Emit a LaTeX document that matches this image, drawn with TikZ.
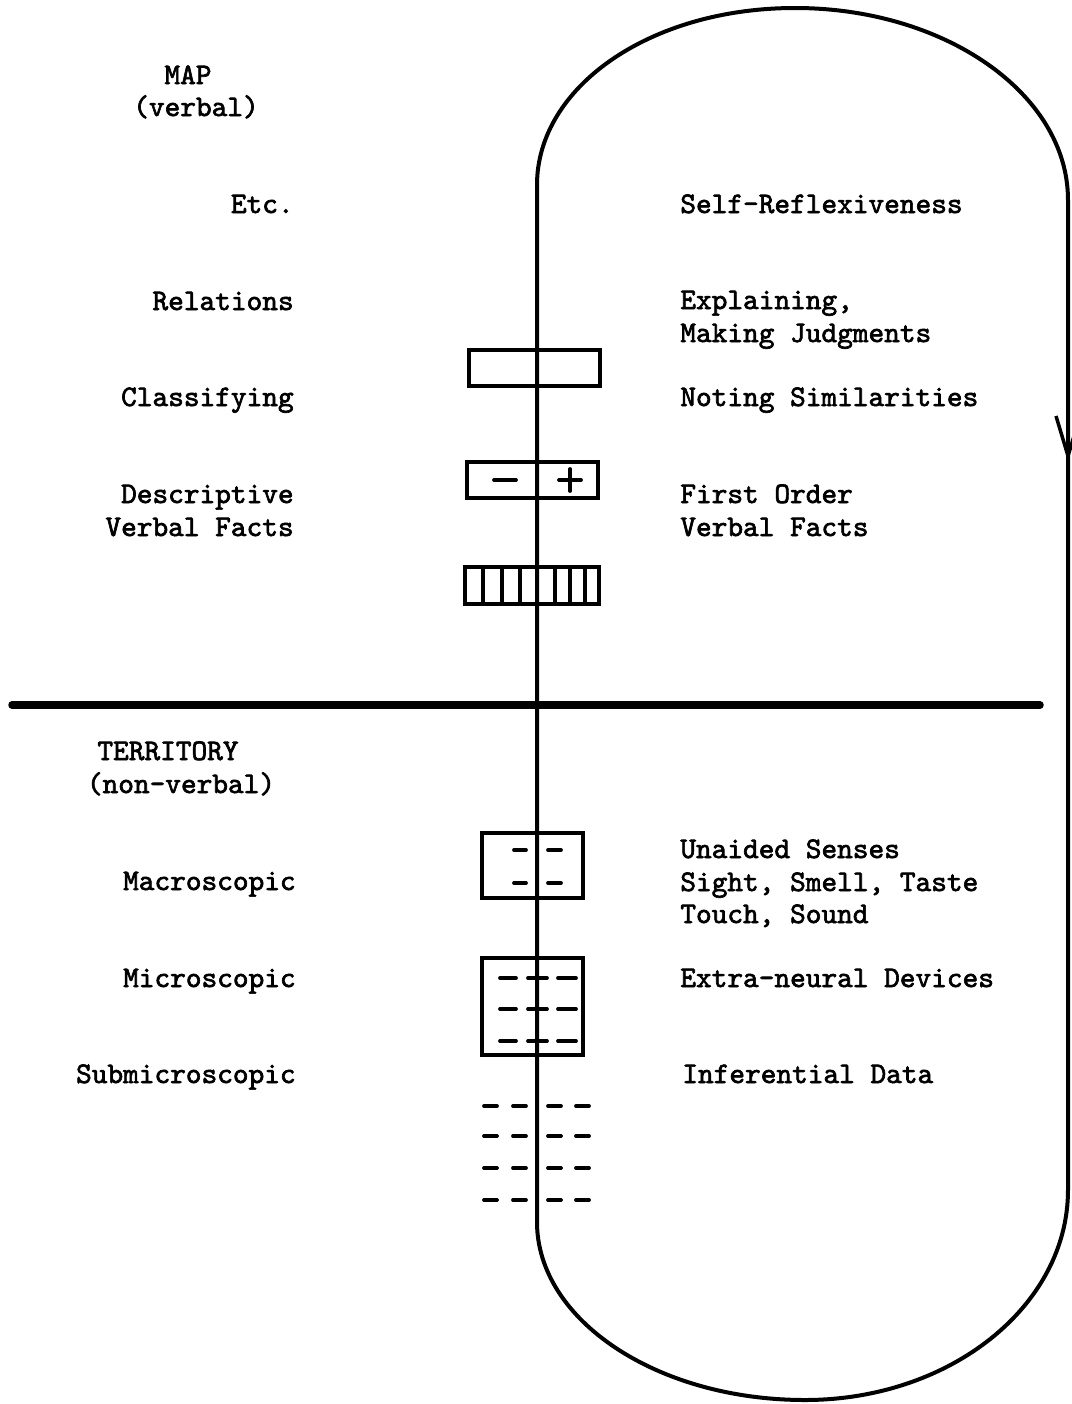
\documentclass[tikz,border=0pt]{standalone}
\usepackage{fontspec}
\usepackage{tikz}
\newfontfamily\typer{lmmono10-regular.otf}[FakeBold=2.2]

\tikzset{
  lbl/.style={font=\typer\fontsize{17}{19}\selectfont, inner sep=0pt},
  lefttxt/.style={lbl, anchor=base east},
  righttxt/.style={lbl, anchor=base west},
  headtxt/.style={lbl, anchor=base},
  boxline/.style={line width=0.065cm},
  dsh/.style={line width=0.075cm, line cap=round},
}

\begin{document}
\begin{tikzpicture}[x=0.02cm,y=-0.02cm]
    \useasboundingbox (0,0) rectangle (1072,1404);
    % Loop
    \draw[line width=0.08cm] (537,1222) -- (537,185)
      .. controls (537,87) and (650,8) .. (795,8)
      .. controls (945,8) and (1068,94) .. (1068,200)
      -- (1068,1190)
      .. controls (1068,1306) and (950,1400) .. (805,1400)
      .. controls (657,1400) and (537,1320) .. cycle;
    \coordinate (tip) at (1068,456);
    \draw[line width=0.07cm, line join=miter] (1056,416) -- (tip) -- (1080,416);
    % Map / territory divider
    \draw[line width=0.15cm, line cap=round] (12,705) -- (1040,705);
    % Map boxes
    \draw[boxline] (469,350) rectangle (600,386);
    \draw[boxline] (467,462) rectangle (598,498);
    \draw[dsh] (494,480) -- (516,480);
    \draw[dsh] (559,480) -- (581,480) (570,469) -- (570,491);
    \draw[boxline] (465,567) rectangle (599,604);
    \foreach \x in {483,502,520,555,570,585}
      \draw[boxline] (\x,567) -- (\x,604);
    % Territory boxes
    \draw[boxline] (482,833) rectangle (583,898);
    \foreach \y in {850,883} {
      \draw[dsh] (514,\y) -- (526,\y);
      \draw[dsh] (548,\y) -- (561,\y);
    }
    \draw[boxline] (482,958) rectangle (583,1055);
    \foreach \y in {978,1009,1041} {
      \draw[dsh] (500,\y) -- (516,\y);
      \draw[dsh] (528,\y) -- (547,\y);
      \draw[dsh] (558,\y) -- (576,\y);
    }
    \foreach \y in {1106,1136,1168,1200}
      \foreach \x in {484,513,548,576}
        \draw[dsh] (\x,\y) -- ++(13,0);
    % Left column
    \node[headtxt] (map) at (188,84) {MAP};
    \node[headtxt] (mapsub) at (196,116) {(verbal)};
    \node[lefttxt] (etc) at (294,213) {Etc.};
    \node[lefttxt] (rel) at (294,310) {Relations};
    \node[lefttxt] (cls) at (294,406) {Classifying};
    \node[lefttxt] (desc) at (294,503) {Descriptive};
    \node[lefttxt] (descvf) at (294,536) {Verbal Facts};
    \node[headtxt] (terr) at (168,760) {TERRITORY};
    \node[headtxt] (terrsub) at (181,793) {(non-verbal)};
    \node[lefttxt] (macro) at (296,890) {Macroscopic};
    \node[lefttxt] (micro) at (296,987) {Microscopic};
    \node[lefttxt] (submicro) at (296,1083) {Submicroscopic};
    % Right column
    \node[righttxt] (self) at (680,213) {Self-Reflexiveness};
    \node[righttxt] (expl) at (680,309) {Explaining,};
    \node[righttxt] (judg) at (680,342) {Making Judgments};
    \node[righttxt] (sim) at (680,406) {Noting Similarities};
    \node[righttxt] (first) at (680,503) {First Order};
    \node[righttxt] (firstvf) at (680,536) {Verbal Facts};
    \node[righttxt] (unaided) at (680,858) {Unaided Senses};
    \node[righttxt] (sight) at (680,891) {Sight, Smell, Taste};
    \node[righttxt] (touch) at (680,923) {Touch, Sound};
    \node[righttxt] (extra) at (680,987) {Extra-neural Devices};
    \node[righttxt] (infer) at (682,1083) {Inferential Data};
\end{tikzpicture}
\end{document}
